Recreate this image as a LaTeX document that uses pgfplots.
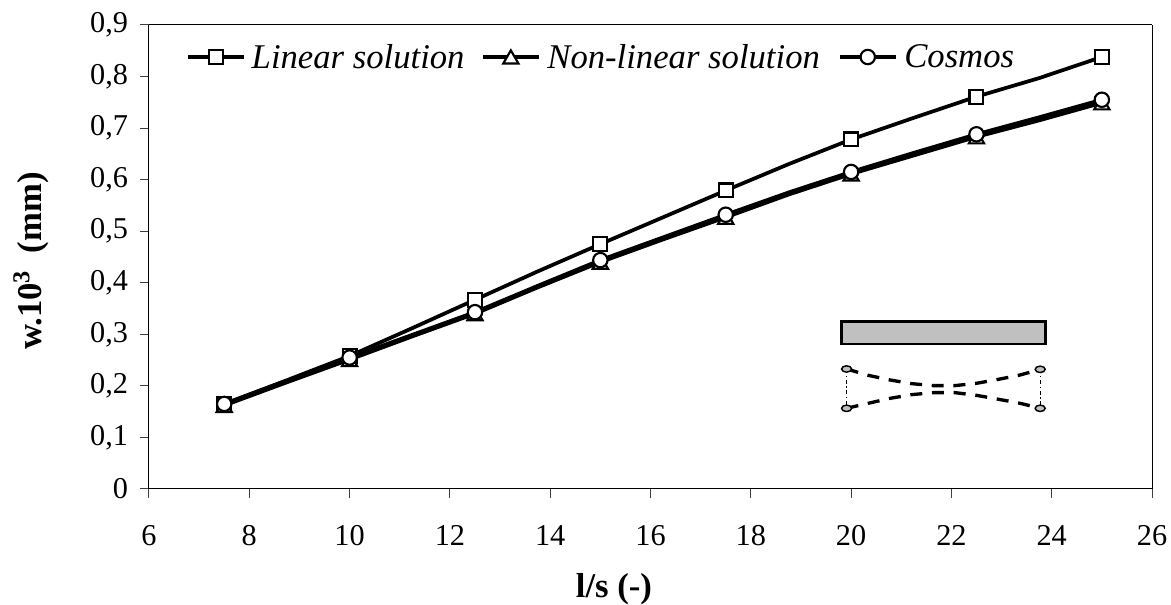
\documentclass[border=0pt]{standalone}
\usepackage{fontspec}
\setmainfont{Liberation Serif}
\usepackage{pgfplots}
\pgfplotsset{compat=1.18}
\definecolor{beam}{HTML}{C0C0C0}
\definecolor{tickc}{HTML}{404040}
\begin{document}
\begin{tikzpicture}
\path[use as bounding box] (-111.75pt,-87pt) rectangle (766.5pt,366.75pt);
\begin{axis}[
  at={(0pt,0pt)}, anchor=south west,
  scale only axis, width=752.25pt, height=348pt,
  xmin=6, xmax=26, ymin=0, ymax=0.9,
  xtick={6,8,...,26}, ytick={0,0.1,...,0.9},
  tick align=outside, major tick length=6.75pt,
  tick style={tickc, line width=0.75pt},
  axis line style={line width=0.75pt},
  axis y line*=left, axis x line*=bottom,
  /pgf/number format/assume math mode=true,
  /pgf/number format/use comma,
  /pgf/number format/fixed,
  /pgf/number format/precision=1,
  tick label style={font=\fontsize{22.7}{25}\selectfont},
  xticklabel style={yshift=-17pt},
  yticklabel style={xshift=-5.5pt},
  clip=false,
  xlabel={\textbf{l/s (-)}},
  ylabel={\textbf{w.10\textsuperscript{3}\ \ (mm)}},
  label style={font=\fontsize{26}{30}\selectfont},
  xlabel style={at={(axis description cs:0.4636,0)}, anchor=center, yshift=-75pt},
  ylabel style={at={(axis description cs:0,0.4915)}, anchor=center, rotate=0, yshift=88.5pt},
  legend style={at={(axis description cs:0.0369,0.9310)}, anchor=west, draw=none, fill=none,
    inner sep=0pt, outer sep=0pt,
    font=\fontsize{26}{29}\selectfont\itshape,
    nodes={inner xsep=0pt, inner ysep=2pt},
    /tikz/column 2/.style={column sep=12.3pt},
    /tikz/column 4/.style={column sep=13.5pt},
    /tikz/column 1/.style={column sep=4.5pt},
    /tikz/column 3/.style={column sep=5pt},
    /tikz/column 5/.style={column sep=5pt}},
  legend columns=3,
  legend cell align=left,
  legend image code/.code={
    \draw[#1, mark repeat=2, mark phase=2] plot coordinates {(0pt,0pt) (21pt,0pt) (42pt,0pt)};
  },
]
% beam schematic
\addplot[draw=black, line width=2pt, fill=beam, forget plot] coordinates
  {(19.81,0.2815) (23.87,0.2815) (23.87,0.3245) (19.81,0.3245)} -- cycle;
\addplot[black, line width=2.5pt, dash pattern=on 9pt off 7.3pt, forget plot] coordinates
  {(19.91,0.2328) (20.34,0.2205) (20.78,0.2114) (21.21,0.2043) (21.64,0.2005) (22.07,0.2005) (22.50,0.2050) (22.94,0.2127) (23.37,0.2211) (23.77,0.2321)};
\addplot[black, line width=2.5pt, dash pattern=on 9pt off 7.3pt, forget plot] coordinates
  {(19.91,0.1565) (20.34,0.1662) (20.78,0.1759) (21.21,0.1830) (21.64,0.1869) (22.07,0.1869) (22.50,0.1817) (22.94,0.1740) (23.37,0.1662) (23.77,0.1565)};
\addplot[black, line width=0.4pt, dash pattern=on 3pt off 2pt on 1pt off 2pt, forget plot] coordinates {(19.91,0.2328) (19.91,0.1565)};
\addplot[black, line width=0.4pt, dash pattern=on 3pt off 2pt on 1pt off 2pt, forget plot] coordinates {(23.77,0.2321) (23.77,0.1565)};
\addplot[only marks, mark=*, mark size=3pt, mark options={draw=black, line width=1.1pt, fill=beam, xscale=1.25, yscale=0.8}, forget plot] coordinates
  {(19.91,0.2328) (19.91,0.1565) (23.77,0.2321) (23.77,0.1565)};
% series
\addplot[black, line width=2.8pt, mark=square*, mark repeat=2, mark size=5.2pt,
  mark options={fill=white, draw=black, line width=1.6pt, solid}] coordinates {
  (7.5,0.165) (8.75,0.211) (10,0.258) (11.25,0.312) (12.5,0.367) (13.75,0.422) (15,0.475) (16.25,0.527)
  (17.5,0.579) (18.75,0.630) (20,0.678) (21.25,0.720) (22.5,0.761) (23.75,0.797) (25,0.838)};
\addlegendentry{Linear solution}
\addplot[black, line width=2.8pt, mark=triangle*, mark repeat=2, mark size=6.6pt,
  mark options={fill=white, draw=black, line width=1.6pt, solid, yshift=-1.6pt}] coordinates {
  (7.5,0.162) (8.75,0.207) (10,0.251) (11.25,0.296) (12.5,0.340) (13.75,0.391) (15,0.440) (16.25,0.484)
  (17.5,0.527) (18.75,0.571) (20,0.611) (21.25,0.647) (22.5,0.683) (23.75,0.715) (25,0.749)};
\addlegendentry{Non-linear solution}
\addplot[black, line width=2.8pt, mark=*, mark repeat=2, mark size=5.4pt,
  mark options={fill=white, draw=black, line width=1.6pt, solid}] coordinates {
  (7.5,0.165) (8.75,0.210) (10,0.255) (11.25,0.299) (12.5,0.343) (13.75,0.394) (15,0.444) (16.25,0.488)
  (17.5,0.532) (18.75,0.575) (20,0.615) (21.25,0.652) (22.5,0.688) (23.75,0.721) (25,0.755)};
\addlegendentry{Cosmos}
\end{axis}
% frame
\begin{axis}[
  at={(0pt,0pt)}, anchor=south west,
  scale only axis, width=752.25pt, height=348pt,
  xmin=6, xmax=26, ymin=0, ymax=0.9,
  xtick=\empty, ytick=\empty,
  axis x line*=top, axis y line*=right,
  axis line style={line width=0.75pt},
]
\addplot[draw=none, forget plot] coordinates {(6,0) (26,0.9)};
\end{axis}
\end{tikzpicture}
\end{document}
